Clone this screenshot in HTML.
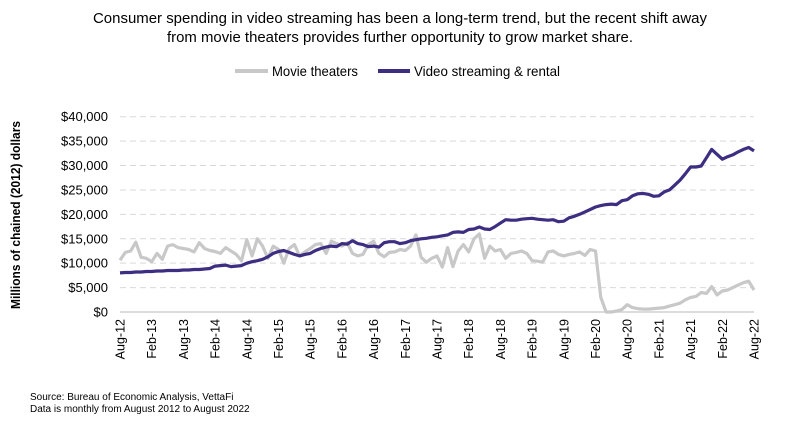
<!DOCTYPE html>
<html><head><meta charset="utf-8"><style>
body{margin:0;background:#fff;font-family:"Liberation Sans",Arial,sans-serif;}
svg text{font-family:"Liberation Sans",Arial,sans-serif;}
</style></head><body>
<svg id="chart" width="800" height="425" viewBox="0 0 800 425" xmlns="http://www.w3.org/2000/svg">
<text x="400" y="23" text-anchor="middle" font-size="15" textLength="614" lengthAdjust="spacingAndGlyphs" fill="#000">Consumer spending in video streaming has been a long-term trend, but the recent shift away</text>
<text x="400" y="42" text-anchor="middle" font-size="15" textLength="466" lengthAdjust="spacingAndGlyphs" fill="#000">from movie theaters provides further opportunity to grow market share.</text>
<g>
<line x1="235" y1="71" x2="268" y2="71" stroke="#c8c8c8" stroke-width="4"/>
<text x="272" y="76" font-size="14" textLength="86" lengthAdjust="spacingAndGlyphs">Movie theaters</text>
<line x1="378" y1="71" x2="410" y2="71" stroke="#3d2e82" stroke-width="4"/>
<text x="414" y="76" font-size="14" textLength="146" lengthAdjust="spacingAndGlyphs">Video streaming &amp; rental</text>
</g>
<text transform="translate(20,215) rotate(-90)" text-anchor="middle" font-size="13" font-weight="bold" textLength="188" lengthAdjust="spacingAndGlyphs">Millions of chained (2012) dollars</text>
<g id="grid"></g><g id="yticks"></g><g id="xticks"></g><g id="series"></g>
<text x="30" y="400" font-size="10">Source: Bureau of Economic Analysis, VettaFi</text>
<text x="30" y="412" font-size="10">Data is monthly from August 2012 to August 2022</text>
</svg>
<script>
const yTicks=[0,5000,10000,15000,20000,25000,30000,35000,40000];
const xLabels=["Aug-12","Feb-13","Aug-13","Feb-14","Aug-14","Feb-15","Aug-15","Feb-16","Aug-16","Feb-17","Aug-17","Feb-18","Aug-18","Feb-19","Aug-19","Feb-20","Aug-20","Feb-21","Aug-21","Feb-22","Aug-22"];
const movieTheaters=[10600,12200,12500,14300,11200,
11000,10300,12000,10800,13500,13800,13200,13000,12800,12300,14200,13000,
12600,12400,12000,13200,12500,11800,10500,14800,11500,15000,13500,11000,
13500,12800,10000,13000,13800,11500,12300,13000,13800,14000,12000,14500,
14000,13500,14200,12000,11500,11800,13800,14500,12000,11300,12200,12300,
12800,12600,13500,15800,11200,10200,11000,11500,9200,13200,9300,12500,
13800,12300,15000,16000,11000,13500,12500,12800,11000,12000,12200,12500,
12000,10500,10400,10200,12300,12500,11800,11500,11800,12000,12300,11600,
12800,12500,3000,0,0,200,500,1500,900,700,600,600,
700,800,900,1200,1500,1800,2500,3000,3200,4000,3800,5200,
3500,4300,4500,5000,5500,6000,6300,4500];
const videoStreaming=[8000,8100,8100,8200,8200,
8300,8300,8400,8400,8500,8500,8500,8600,8600,8700,8700,8800,
8900,9400,9500,9600,9300,9400,9500,10000,10300,10500,10800,11300,
12000,12400,12600,12200,11800,11500,11800,12000,12600,13000,13300,13500,
13400,14000,13900,14600,14000,13800,13400,13500,13300,14200,14400,14400,
14000,14200,14600,14800,15000,15100,15300,15400,15600,15800,16300,16400,
16300,16900,17000,17400,17000,16900,17500,18200,18900,18800,18800,19000,
19100,19200,19000,18900,18800,18900,18500,18600,19300,19600,20000,20500,
21000,21500,21800,22000,22100,22000,22800,23000,23800,24200,24300,24100,
23700,23800,24600,25000,26000,27000,28300,29700,29700,29900,31600,33300,
32300,31300,31800,32200,32800,33300,33700,33000];
const NS="http://www.w3.org/2000/svg";
const X0=120,X1=754,Y0=312,Y1=116.7;
const xs=i=>X0+(X1-X0)*i/(movieTheaters.length-1);
const ys=v=>Y0-(Y0-Y1)*v/40000;
function mk(t,a,p){const e=document.createElementNS(NS,t);for(const k in a)e.setAttribute(k,a[k]);p.appendChild(e);return e;}
const grid=document.getElementById('grid'),yt=document.getElementById('yticks'),xt=document.getElementById('xticks'),se=document.getElementById('series');
yTicks.forEach(v=>{
  const y=ys(v);
  const l=mk('line',{x1:X0,x2:X1,y1:y,y2:y,stroke:v===0?'#d0d0d0':'#d9d9d9','stroke-width':v===0?1.5:1,'stroke-dasharray':v===0?'none':'6,4'},grid);
  
  
  const t=mk('text',{x:108,y:y+4.5,'text-anchor':'end','font-size':13},yt);
  t.textContent='$'+v.toLocaleString('en-US');
  
  
});
xLabels.forEach((s,k)=>{
  const x=xs(k*6);
  const t=mk('text',{transform:`translate(${x+4.5},319) rotate(-90)`,'text-anchor':'end','font-size':12.5},xt);
  t.textContent=s;
  
  
});
function line(arr,color,name){
  const d=arr.map((v,i)=>(i?'L':'M')+xs(i).toFixed(1)+','+ys(v).toFixed(1)).join('');
  const p=mk('path',{d:d,fill:'none',stroke:color,'stroke-width':3.2,'stroke-linejoin':'round'},se);
  
  
}
line(movieTheaters,'#c8c8c8','movie-theaters-line');
line(videoStreaming,'#3d2e82','video-streaming-line');
</script>
</body></html>
